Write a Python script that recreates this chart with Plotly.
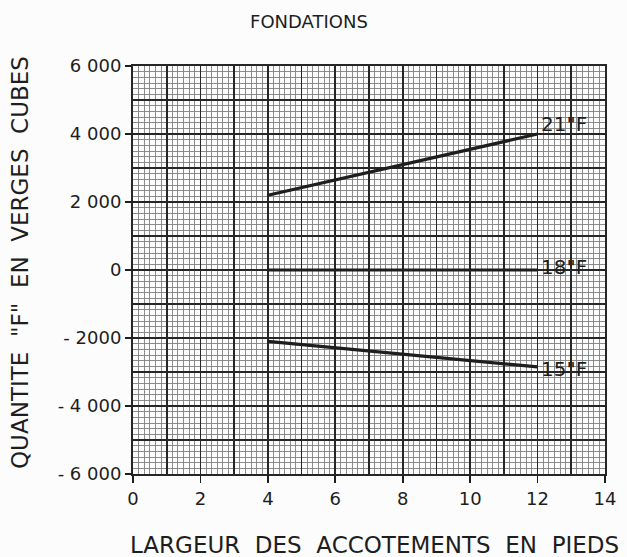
import plotly.graph_objects as go

# ---- data ----
x_largeur = [4, 12]
f_21 = [2200, 4000]
f_18 = [0, 0]
f_15 = [-2100, -2850]
series_names = ['21"F', '18"F', '15"F']

x_ticks = [0, 2, 4, 6, 8, 10, 12, 14]
y_ticks = [6000, 4000, 2000, 0, -2000, -4000, -6000]
y_ticktext = ["6 000", "4 000", "2 000", "0", "- 2000", "- 4 000", "- 6 000"]

title_text = "FONDATIONS"
x_title = "LARGEUR  DES  ACCOTEMENTS  EN  PIEDS"
y_title = 'QUANTITE  "F"  EN  VERGES  CUBES'

INK = "#1e1e1e"
MAJ = "#262626"
MIN = "#808080"
FONT = "DejaVu Sans"

fig = go.Figure()
for ys, name in zip([f_21, f_18, f_15], series_names):
    fig.add_trace(go.Scatter(x=x_largeur, y=ys, mode="lines", name=name,
                             line=dict(color=INK, width=3.2), showlegend=False,
                             hoverinfo="skip", xaxis="x", yaxis="y"))
# invisible trace for the labelled overlay axes
fig.add_trace(go.Scatter(x=[0, 14], y=[-6000, 6000], mode="markers",
                         marker=dict(opacity=0), showlegend=False, hoverinfo="skip",
                         xaxis="x2", yaxis="y2"))

# series labels at the line ends
label_y = [4300, 100, -2900]
for name, ly in zip(series_names, label_y):
    fig.add_annotation(x=12.05, y=ly, xref="x", yref="y", text=name, showarrow=False,
                       xanchor="left", yanchor="middle",
                       font=dict(family=FONT, size=20, color=INK))

fig.update_layout(
    width=627, height=557,
    margin=dict(l=133, r=22, t=66, b=83),
    paper_bgcolor="#fcfcfc", plot_bgcolor="#fcfcfc",
    hovermode=False,
    xaxis=dict(range=[0, 14], dtick=1, tick0=0, showgrid=True, gridcolor=MAJ,
               gridwidth=1.8, showticklabels=False, ticks="", zeroline=False,
               showline=True, linecolor=MAJ, linewidth=2, mirror=True,
               minor=dict(dtick=1/6, tick0=0, showgrid=True, gridcolor=MIN, gridwidth=0.9)),
    yaxis=dict(range=[-6000, 6000], dtick=1000, tick0=0, showgrid=True, gridcolor=MAJ,
               gridwidth=1.8, showticklabels=False, ticks="", zeroline=False,
               showline=True, linecolor=MAJ, linewidth=2, mirror=True,
               minor=dict(dtick=1000/6, tick0=0, showgrid=True, gridcolor=MIN, gridwidth=0.9)),
    xaxis2=dict(overlaying="x", side="bottom", range=[0, 14], tickmode="array",
                tickvals=x_ticks, ticks="outside", ticklen=8, tickwidth=1.6, tickcolor=INK,
                showgrid=False, zeroline=False, showline=False,
                tickfont=dict(family=FONT, size=18, color=INK)),
    yaxis2=dict(overlaying="y", side="left", range=[-6000, 6000], tickmode="array",
                tickvals=y_ticks, ticktext=y_ticktext, ticks="outside", ticklen=7,
                tickwidth=1.6, tickcolor=INK, showgrid=False, zeroline=False, showline=False,
                tickfont=dict(family=FONT, size=18, color=INK)),
    title=dict(text=title_text, x=309/627, xanchor="center", y=1 - 22/557, yanchor="middle",
               yref="container", font=dict(family=FONT, size=18, color=INK)),
)
fig.add_annotation(text=x_title, xref="paper", yref="paper", x=(374 - 133) / 472,
                   y=-(545 - 474) / 408, xanchor="center", yanchor="middle", showarrow=False,
                   font=dict(family=FONT, size=23, color=INK))
fig.add_annotation(text=y_title, xref="paper", yref="paper", x=-(133 - 20) / 472,
                   y=(474 - 263) / 408, xanchor="center", yanchor="middle", showarrow=False,
                   textangle=-90, font=dict(family=FONT, size=23, color=INK))

fig.write_html("out.html", config={"displayModeBar": False, "staticPlot": True},
               post_script="document.body.style.margin='0';document.body.style.overflow='hidden';")
